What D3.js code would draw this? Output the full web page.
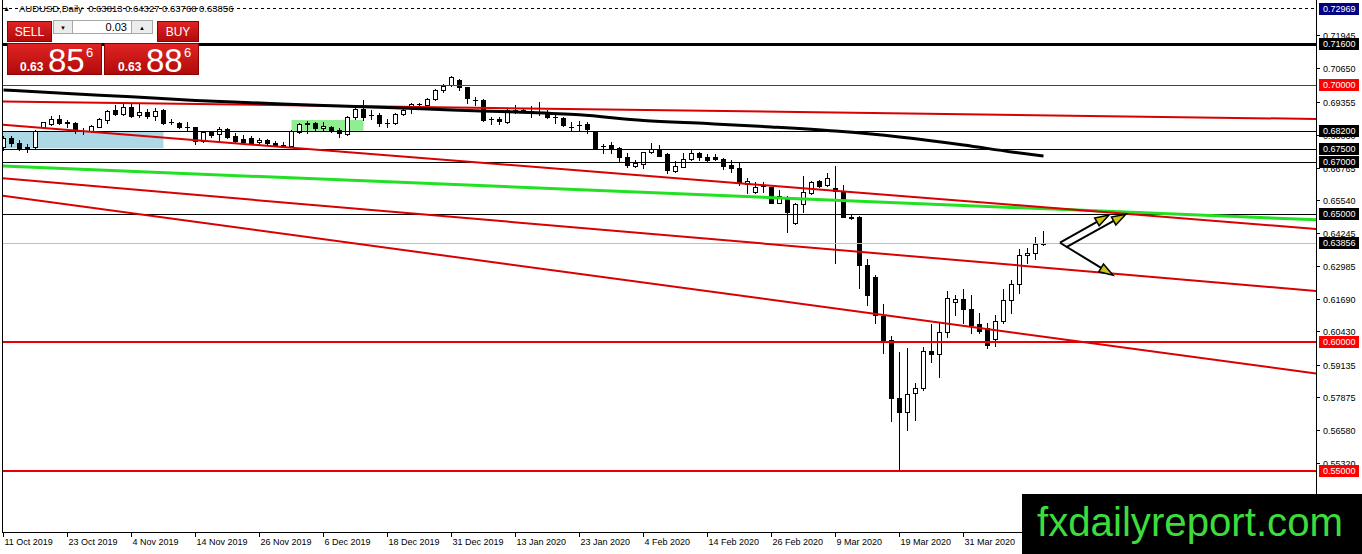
<!DOCTYPE html>
<html>
<head>
<meta charset="utf-8">
<script src="https://cdn.jsdelivr.net/npm/d3@7"></script>
<style>
  html, body { margin: 0; padding: 0; background: #fff; }
  svg { display: block; font-family: "Liberation Sans", Arial, sans-serif; }
</style>
</head>
<body>
<svg id="chart" width="1362" height="554"></svg>
<script>
// AUDUSD daily candles, bar 0 = 11 Oct 2019
const opens = [
  0.6759, 0.6794, 0.6775, 0.6755, 0.6759, 0.6837, 0.6848, 0.6868, 0.6856, 0.6852,
  0.6822, 0.6821, 0.6837, 0.6864, 0.6903, 0.6888, 0.6915, 0.6884, 0.6895, 0.6880,
  0.6903, 0.6856, 0.6852, 0.6837, 0.6837, 0.6782, 0.6817, 0.6810, 0.6829, 0.6802,
  0.6790, 0.6794, 0.6779, 0.6786, 0.6775, 0.6767, 0.6763, 0.6817, 0.6852, 0.6852,
  0.6833, 0.6837, 0.6825, 0.6810, 0.6876, 0.6907, 0.6884, 0.6884, 0.6852, 0.6852,
  0.6888, 0.6915, 0.6927, 0.6923, 0.6946, 0.6981, 0.7000, 0.7020, 0.6992, 0.6942,
  0.6942, 0.6868, 0.6868, 0.6856, 0.6903, 0.6903, 0.6899, 0.6895, 0.6895, 0.6876,
  0.6872, 0.6837, 0.6845, 0.6848, 0.6817, 0.6763, 0.6767, 0.6755, 0.6720, 0.6685,
  0.6693, 0.6740, 0.6748, 0.6732, 0.6666, 0.6682, 0.6713, 0.6736, 0.6720, 0.6720,
  0.6713, 0.6689, 0.6678, 0.6615, 0.6584, 0.6608, 0.6604, 0.6542, 0.6565, 0.6464,
  0.6538, 0.6580, 0.6627, 0.6611, 0.6600, 0.6584, 0.6487, 0.6487, 0.6300, 0.6253,
  0.6102, 0.6009, 0.5783, 0.5729, 0.5803, 0.5822, 0.5966, 0.5954, 0.6040, 0.6157,
  0.6168, 0.6129, 0.6071, 0.6055, 0.6013, 0.6083, 0.6165, 0.6227, 0.6339, 0.6347,
  0.63813
];
const highs = [
  0.6802, 0.6802, 0.6786, 0.6771, 0.6825, 0.6856, 0.6879, 0.6884, 0.6864, 0.6856,
  0.6833, 0.6845, 0.6872, 0.6903, 0.6923, 0.6930, 0.6930, 0.6930, 0.6907, 0.6911,
  0.6907, 0.6868, 0.6856, 0.6856, 0.6838, 0.6818, 0.6821, 0.6837, 0.6833, 0.6814,
  0.6806, 0.6802, 0.6794, 0.6790, 0.6782, 0.6779, 0.6825, 0.6852, 0.6860, 0.6856,
  0.6856, 0.6841, 0.6833, 0.6880, 0.6911, 0.6942, 0.6903, 0.6891, 0.6868, 0.6891,
  0.6915, 0.6930, 0.6930, 0.6950, 0.6985, 0.7004, 0.7035, 0.7024, 0.6993, 0.6954,
  0.6946, 0.6876, 0.6876, 0.6907, 0.6923, 0.6911, 0.6919, 0.6934, 0.6903, 0.6884,
  0.6876, 0.6856, 0.6860, 0.6856, 0.6818, 0.6771, 0.6779, 0.6759, 0.6736, 0.6709,
  0.6740, 0.6775, 0.6767, 0.6736, 0.6705, 0.6736, 0.6752, 0.6740, 0.6732, 0.6732,
  0.6717, 0.6709, 0.6697, 0.6639, 0.6623, 0.6623, 0.6605, 0.6592, 0.6569, 0.6542,
  0.6646, 0.6627, 0.6631, 0.6658, 0.6685, 0.6611, 0.6495, 0.6491, 0.6323, 0.6261,
  0.6149, 0.6025, 0.5962, 0.5977, 0.5842, 0.5981, 0.6071, 0.6075, 0.6199, 0.6184,
  0.6207, 0.6184, 0.6114, 0.6075, 0.6106, 0.6207, 0.6242, 0.6362, 0.6366, 0.6409,
  0.64327
];
const lows = [
  0.6748, 0.6763, 0.6748, 0.6740, 0.6755, 0.6833, 0.6845, 0.6848, 0.6837, 0.6814,
  0.6810, 0.6817, 0.6837, 0.6852, 0.6884, 0.6884, 0.6876, 0.6876, 0.6872, 0.6864,
  0.6848, 0.6848, 0.6833, 0.6821, 0.6771, 0.6779, 0.6798, 0.6786, 0.6794, 0.6775,
  0.6778, 0.6774, 0.6771, 0.6767, 0.6763, 0.6759, 0.6759, 0.6814, 0.6814, 0.6825,
  0.6821, 0.6817, 0.6798, 0.6806, 0.6868, 0.6864, 0.6868, 0.6841, 0.6837, 0.6848,
  0.6884, 0.6891, 0.6915, 0.6919, 0.6942, 0.6973, 0.6996, 0.6981, 0.6930, 0.6923,
  0.6860, 0.6848, 0.6848, 0.6852, 0.6891, 0.6895, 0.6876, 0.6884, 0.6872, 0.6852,
  0.6841, 0.6825, 0.6825, 0.6814, 0.6752, 0.6736, 0.6736, 0.6701, 0.6682, 0.6682,
  0.6678, 0.6736, 0.6724, 0.6658, 0.6662, 0.6681, 0.6709, 0.6709, 0.6705, 0.6709,
  0.6674, 0.6662, 0.6611, 0.6580, 0.6580, 0.6584, 0.6541, 0.6540, 0.6429, 0.6460,
  0.6506, 0.6576, 0.6604, 0.6608, 0.6308, 0.6487, 0.6479, 0.6211, 0.6145, 0.6075,
  0.5959, 0.5694, 0.5503, 0.5659, 0.5698, 0.5814, 0.5923, 0.5865, 0.6020, 0.6106,
  0.6075, 0.6036, 0.6036, 0.5977, 0.5985, 0.6075, 0.6114, 0.6192, 0.6308, 0.6323,
  0.63768
];
const closes = [
  0.6794, 0.6775, 0.6755, 0.6759, 0.6821, 0.6856, 0.6868, 0.6852, 0.6854, 0.6825,
  0.6820, 0.6841, 0.6868, 0.6899, 0.6888, 0.6915, 0.6880, 0.6895, 0.6880, 0.6899,
  0.6852, 0.6855, 0.6837, 0.6836, 0.6782, 0.6817, 0.6806, 0.6829, 0.6798, 0.6782,
  0.6779, 0.6776, 0.6786, 0.6775, 0.6767, 0.6760, 0.6821, 0.6848, 0.6850, 0.6833,
  0.6841, 0.6821, 0.6814, 0.6876, 0.6907, 0.6876, 0.6882, 0.6852, 0.6853, 0.6888,
  0.6903, 0.6927, 0.6926, 0.6946, 0.6981, 0.6996, 0.7031, 0.6992, 0.6950, 0.6940,
  0.6864, 0.6867, 0.6860, 0.6903, 0.6902, 0.6904, 0.6898, 0.6896, 0.6876, 0.6875,
  0.6845, 0.6836, 0.6844, 0.6829, 0.6755, 0.6762, 0.6752, 0.6720, 0.6689, 0.6697,
  0.6740, 0.6752, 0.6725, 0.6670, 0.6685, 0.6713, 0.6736, 0.6720, 0.6709, 0.6713,
  0.6685, 0.6678, 0.6619, 0.6627, 0.6604, 0.6607, 0.6542, 0.6569, 0.6506, 0.6538,
  0.6584, 0.6623, 0.6608, 0.6639, 0.6588, 0.6488, 0.6483, 0.6300, 0.6184, 0.6106,
  0.6009, 0.5783, 0.5729, 0.5799, 0.5822, 0.5966, 0.5954, 0.6040, 0.6172, 0.6168,
  0.6129, 0.6067, 0.6044, 0.5989, 0.6083, 0.6165, 0.6227, 0.6339, 0.6347, 0.6382,
  0.63856
];

// moving average, sampled every 8 bars
const maIndex = [0, 8, 16, 24, 32, 40, 48, 56, 64, 72, 80, 88, 96, 104, 112, 120, 126, 130];
const maValues = [0.6981, 0.6967, 0.6954, 0.6940, 0.6930, 0.6920, 0.6913, 0.6903, 0.6895,
                  0.6884, 0.6862, 0.6850, 0.6837, 0.6821, 0.6798, 0.6767, 0.6740, 0.6724];

// date axis
const dateTickIndex = [0, 8, 16, 24, 32, 40, 48, 56, 64, 72, 80, 88, 96, 104, 112, 120];
const dateTickLabels = ["11 Oct 2019", "23 Oct 2019", "4 Nov 2019", "14 Nov 2019", "26 Nov 2019",
  "6 Dec 2019", "18 Dec 2019", "31 Dec 2019", "13 Jan 2020", "23 Jan 2020", "4 Feb 2020",
  "14 Feb 2020", "26 Feb 2020", "9 Mar 2020", "19 Mar 2020", "31 Mar 2020"];

// price axis
const priceTickLabels = ["0.71945", "0.70650", "0.69355", "0.68060", "0.66765", "0.65540", "0.64245",
  "0.62985", "0.61690", "0.60430", "0.59135", "0.57875", "0.56580", "0.55320", "0.54025"];

// drawn objects (bar index, price)
const blackLevels = [0.682, 0.675, 0.670, 0.650];
const redLevels = [0.700, 0.600, 0.550];
const majorLevel = 0.716;
const bidLevel = 0.63856;
const highLevel = 0.72969;
const redTrends = [
  [0, 0.6936, 164, 0.6868],
  [0, 0.6845, 164, 0.6441],
  [0, 0.6637, 164, 0.6200],
  [0, 0.6569, 164, 0.5879]
];
const greenTrend = [0, 0.6685, 164, 0.6476];
const blueZone = [-2, 0.6820, 20, 0.6754];
const greenZone = [36, 0.6864, 45, 0.6822];
const arrows = [
  [132.06, 0.6387, 138.2, 0.6495],
  [132.8, 0.6369, 140.3, 0.6498],
  [132.06, 0.6387, 138.7, 0.6261]
];

const header = "AUDUSD,Daily  0.63813 0.64327 0.63768 0.63856";

const svg = d3.select("#chart");
const plot = { left: 3, right: 1316, top: 0, bottom: 532 };

const x = d3.scaleLinear().domain([0, 164]).range([3.5, 1315.5]);
const y = d3.scaleLinear().domain([0.70, 0.55]).range([85, 471]);
const py = v => Math.round(y(v));

const defs = svg.append("defs");
defs.append("clipPath").attr("id", "plotClip")
  .append("rect")
  .attr("x", plot.left).attr("y", plot.top)
  .attr("width", plot.right - plot.left).attr("height", plot.bottom - plot.top);

const redGrad = defs.append("linearGradient").attr("id", "redGrad")
  .attr("x1", 0).attr("y1", 0).attr("x2", 0).attr("y2", 1);
redGrad.append("stop").attr("offset", "0%").attr("stop-color", "#e12424");
redGrad.append("stop").attr("offset", "100%").attr("stop-color", "#b00a0a");

const g = svg.append("g").attr("clip-path", "url(#plotClip)");

// background zones
[[blueZone, "#add8e6"], [greenZone, "#90ee90"]].forEach(([z, col]) => {
  g.append("rect")
    .attr("x", x(z[0])).attr("y", y(z[1]))
    .attr("width", x(z[2]) - x(z[0])).attr("height", y(z[3]) - y(z[1]))
    .attr("fill", col);
});

// dashed high line
g.append("line")
  .attr("x1", plot.left).attr("x2", plot.right)
  .attr("y1", py(highLevel) - 0.5).attr("y2", py(highLevel) - 0.5)
  .attr("stroke", "#000").attr("stroke-dasharray", "3,3");

// candles
const candles = opens.map((o, i) => ({ i, o, h: highs[i], l: lows[i], c: closes[i] }));
const cg = g.append("g").attr("shape-rendering", "crispEdges");

cg.selectAll("line.wick").data(candles).join("line")
  .attr("class", "wick")
  .attr("x1", d => x(d.i)).attr("x2", d => x(d.i))
  .attr("y1", d => py(d.h)).attr("y2", d => py(d.l) + 1)
  .attr("stroke", "#000");

const isDoji = d => Math.abs(py(d.o) - py(d.c)) < 1;

cg.selectAll("rect.body").data(candles.filter(d => !isDoji(d))).join("rect")
  .attr("class", "body")
  .attr("x", d => x(d.i) - 2)
  .attr("y", d => Math.min(py(d.o), py(d.c)) + 0.5)
  .attr("width", 4)
  .attr("height", d => Math.abs(py(d.o) - py(d.c)))
  .attr("fill", d => d.c >= d.o ? "#fff" : "#000")
  .attr("stroke", "#000");

cg.selectAll("line.doji").data(candles.filter(isDoji)).join("line")
  .attr("class", "doji")
  .attr("x1", d => x(d.i) - 2.5).attr("x2", d => x(d.i) + 2.5)
  .attr("y1", d => py(d.o) + 0.5).attr("y2", d => py(d.o) + 0.5)
  .attr("stroke", "#000");

// horizontal levels
const hline = (v, col, w) => {
  const yy = py(v) + (w % 2 ? 0.5 : 0);
  g.append("line")
    .attr("x1", plot.left).attr("x2", plot.right)
    .attr("y1", yy).attr("y2", yy)
    .attr("stroke", col).attr("stroke-width", w);
};
blackLevels.forEach(v => hline(v, "#000", 1));
hline(bidLevel, "#c0c0c0", 1);
hline(majorLevel, "#000", 3);
hline(redLevels[0], "#e00000", 1);
redLevels.slice(1).forEach(v => hline(v, "#e80000", 2));

// trend lines, extended across the chart
const trendPath = (t, col, w) => {
  const slope = (t[3] - t[1]) / (t[2] - t[0]);
  const at = i => t[1] + (i - t[0]) * slope;
  g.append("line")
    .attr("x1", x(-1)).attr("y1", y(at(-1)))
    .attr("x2", x(165)).attr("y2", y(at(165)))
    .attr("stroke", col).attr("stroke-width", w);
};
trendPath(greenTrend, "#22e022", 3);
redTrends.forEach(t => trendPath(t, "#d80000", 2));

// moving average
g.append("path")
  .datum(maIndex.map((i, k) => [i, maValues[k]]))
  .attr("fill", "none")
  .attr("stroke", "#000")
  .attr("stroke-width", 3)
  .attr("d", d3.line().x(d => x(d[0])).y(d => y(d[1])).curve(d3.curveMonotoneX));

// arrows
arrows.forEach(a => {
  const x1 = x(a[0]), y1 = y(a[1]), x2 = x(a[2]), y2 = y(a[3]);
  const ang = Math.atan2(y2 - y1, x2 - x1);
  const len = 14, hw = 4.5;
  const bx = x2 - len * Math.cos(ang), by = y2 - len * Math.sin(ang);
  g.append("line")
    .attr("x1", x1).attr("y1", y1).attr("x2", bx).attr("y2", by)
    .attr("stroke", "#000").attr("stroke-width", 2);
  const pts = [
    [x2, y2],
    [bx + hw * Math.sin(ang), by - hw * Math.cos(ang)],
    [bx - hw * Math.sin(ang), by + hw * Math.cos(ang)]
  ];
  g.append("polygon")
    .attr("points", pts.map(p => p.join(",")).join(" "))
    .attr("fill", "#c8c416").attr("stroke", "#000").attr("stroke-width", 1.5);
});

// frame
const frame = svg.append("g").attr("shape-rendering", "crispEdges").attr("stroke", "#000");
frame.append("line").attr("x1", 2.5).attr("x2", 2.5).attr("y1", 0).attr("y2", plot.bottom + 0.5);
frame.append("line").attr("x1", plot.right + 0.5).attr("x2", plot.right + 0.5).attr("y1", 0).attr("y2", plot.bottom + 0.5);
frame.append("line").attr("x1", 2.5).attr("x2", plot.right + 0.5).attr("y1", plot.bottom + 0.5).attr("y2", plot.bottom + 0.5);

// price axis labels
const yAxis = svg.append("g").style("font-size", "9px");
priceTickLabels.forEach(s => {
  const yy = py(+s) + 0.5;
  yAxis.append("line").attr("x1", plot.right).attr("x2", plot.right + 4)
    .attr("y1", yy).attr("y2", yy).attr("stroke", "#000").attr("shape-rendering", "crispEdges");
  yAxis.append("text").attr("x", 1323).attr("y", yy).attr("dy", "0.35em")
    .attr("fill", "#000").text(s);
});

// level boxes
const boxes = [
  [highLevel, "#000080"], [majorLevel, "#000"], [redLevels[0], "#ff0000"],
  ...blackLevels.map(v => [v, "#000"]), [bidLevel, "#000"],
  [redLevels[1], "#ff0000"], [redLevels[2], "#ff0000"]
];
boxes.forEach(([v, col]) => {
  const yy = Math.max(py(v), 7);
  yAxis.append("rect").attr("x", 1319).attr("y", yy - 6)
    .attr("width", 40).attr("height", 12).attr("fill", col);
  yAxis.append("text").attr("x", 1323).attr("y", yy).attr("dy", "0.35em")
    .attr("fill", "#fff").text(v.toFixed(5));
});

// date axis
const xAxis = svg.append("g").style("font-size", "9px");
dateTickIndex.forEach((i, k) => {
  const xx = Math.round(x(i)) - 0.5;
  xAxis.append("line").attr("x1", xx).attr("x2", xx)
    .attr("y1", plot.bottom).attr("y2", plot.bottom + 5)
    .attr("stroke", "#000").attr("shape-rendering", "crispEdges");
  xAxis.append("text").attr("x", xx + 1).attr("y", 545).attr("fill", "#000")
    .text(dateTickLabels[k]);
});

// chart header
svg.append("text").attr("x", 3).attr("y", 11).style("font-size", "7px").text("\u25B2");
svg.append("text").attr("x", 19).attr("y", 12).style("font-size", "9.5px")
  .attr("xml:space", "preserve").text(header);

// one-click trading panel
const panel = svg.append("g");
const redBox = (bx, by, bw, bh) => panel.append("rect")
  .attr("x", bx).attr("y", by).attr("width", bw).attr("height", bh)
  .attr("fill", "url(#redGrad)").attr("stroke", "#8c0000").attr("stroke-width", 1);
redBox(7.5, 21.5, 44, 20);
redBox(157.5, 21.5, 41, 20);
redBox(7.5, 43.5, 94, 31);
redBox(104.5, 43.5, 94, 31);

panel.append("text").attr("x", 29.5).attr("y", 36).attr("text-anchor", "middle")
  .attr("fill", "#fff").style("font-size", "12px").text("SELL");
panel.append("text").attr("x", 178).attr("y", 36).attr("text-anchor", "middle")
  .attr("fill", "#fff").style("font-size", "12px").text("BUY");

panel.append("rect").attr("x", 53.5).attr("y", 20.5).attr("width", 19).attr("height", 13)
  .attr("fill", "#ececec").attr("stroke", "#a8a8a8");
panel.append("rect").attr("x", 72.5).attr("y", 20.5).attr("width", 59).attr("height", 13)
  .attr("fill", "#fff").attr("stroke", "#a8a8a8");
panel.append("rect").attr("x", 131.5).attr("y", 20.5).attr("width", 21).attr("height", 13)
  .attr("fill", "#ececec").attr("stroke", "#a8a8a8");
panel.append("text").attr("x", 63).attr("y", 30).attr("text-anchor", "middle")
  .style("font-size", "6px").text("\u25BC");
panel.append("text").attr("x", 142).attr("y", 30).attr("text-anchor", "middle")
  .style("font-size", "6px").text("\u25B2");
panel.append("text").attr("x", 127).attr("y", 31).attr("text-anchor", "end")
  .style("font-size", "11px").text("0.03");

const priceText = (bx, big) => {
  panel.append("text").attr("x", bx).attr("y", 71).attr("fill", "#fff")
    .style("font-size", "12px").style("font-weight", "bold").text("0.63");
  panel.append("text").attr("x", bx + 28).attr("y", 72).attr("fill", "#fff")
    .style("font-size", "33px").text(big);
  panel.append("text").attr("x", bx + 66).attr("y", 57).attr("fill", "#fff")
    .style("font-size", "13px").text("6");
};
priceText(20, "85");
priceText(118, "88");

// watermark
svg.append("rect").attr("x", 1022).attr("y", 494).attr("width", 340).attr("height", 60).attr("fill", "#000");
svg.append("text").attr("x", 1037).attr("y", 536)
  .attr("fill", "#3ddc3d").style("font-size", "41px")
  .attr("textLength", 306).attr("lengthAdjust", "spacingAndGlyphs")
  .text("fxdailyreport.com");
</script>
</body>
</html>
